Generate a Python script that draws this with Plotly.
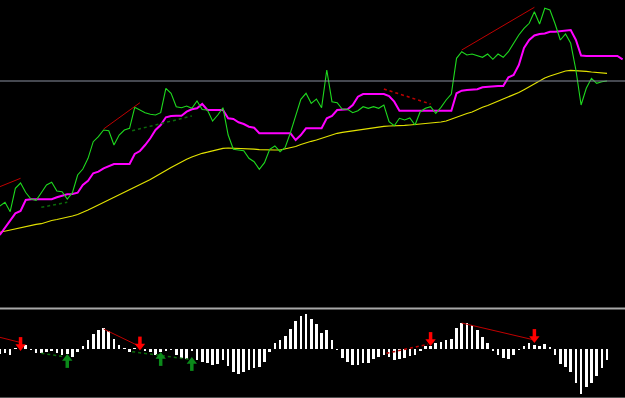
import plotly.graph_objects as go

# ---------------- data ----------------
# main panel: price-like level (arbitrary units, higher = up)
close_line = [94, 97.7, 88.3, 111.7, 117, 107.5, 101, 99.7, 107.3, 115,
              117.7, 109, 108.3, 101, 107.3, 125, 131, 141.7, 158.3, 163.3,
              170, 169.3, 155, 165, 170, 171.7, 192.7, 190, 187.3, 185.7,
              185, 187.3, 211.7, 206.7, 193.3, 192.3, 194, 191.7, 199, 190.5,
              190, 179, 185, 192.3, 165, 150.7, 150, 149.3, 141.7, 138.3,
              130.7, 137.3, 150.7, 154, 148.3, 152.7, 167.3, 185, 200.7, 206.7,
              196.7, 201, 192.3, 230, 198.3, 197.3, 190.7, 190.7, 187.3, 189.3,
              193.3, 191.7, 193.3, 191.7, 195, 178.3, 174.3, 181.7, 180, 182,
              175, 188.3, 191.7, 193.3, 186.7, 192.7, 200, 206, 241.7, 248.3,
              245, 246, 244, 242.7, 246, 240.7, 246, 242.7, 248.3, 257.3,
              265, 271.7, 276.7, 288.3, 276, 291.7, 290, 276, 260, 266,
              256.7, 230, 195, 211.7, 221.7, 216.7, 218.3, 219]

magenta_line = [65, 72.5, 80, 86.7, 89, 100, 100.7, 100.7, 100.7, 100.7,
                100.7, 102.7, 104, 105.7, 106, 107.3, 115, 119.3, 126.7, 128.3,
                131.7, 134, 136, 136, 136, 136, 146, 149, 155, 161.7,
                170, 175, 182.7, 184, 184.2, 184.3, 188.3, 190.7, 191.7, 196,
                190, 190, 190, 190, 181.7, 181, 177.7, 176, 173.3, 172.3,
                166.7, 166.7, 166.7, 166.7, 166.7, 166.7, 166.7, 160, 165, 171.7,
                171.7, 171.7, 171.7, 181.7, 184, 190, 190, 190.7, 195, 203.3,
                206, 206, 206, 206, 206, 204, 198.3, 189.3, 189.3, 189.3,
                189.3, 189.3, 189.3, 189.3, 189.3, 189.3, 189.3, 189.3, 206.7, 209.3,
                210, 210.3, 210.7, 212.7, 213.3, 213.5, 214, 214, 222.7, 225,
                235, 252, 260, 264.5, 266, 266.5, 268.3, 268.3, 269, 269.5,
                270, 260, 244.5, 244, 244, 244, 244, 244, 244, 244,
                240.7]

yellow_line = [67.7, 68.8, 70, 71.2, 72.4, 73.7, 75, 75.6, 76.3, 78,
               79.5, 80.5, 81.5, 82.7, 84, 85.5, 87.5, 90, 92.5, 95,
               97.5, 100.5, 102.5, 105, 107.5, 109.7, 112.5, 115.5, 118, 120.5,
               123.5, 126.2, 129.5, 132.5, 135.5, 138, 140.7, 143, 145, 146.7,
               147.8, 149, 150.5, 151.7, 152, 151.9, 151.8, 151.7, 151.3, 150.8,
               150.3, 150, 150, 150, 150, 151, 152, 153.5, 155.5, 157.3,
               158.7, 160, 161.7, 163.3, 165, 166.7, 167.7, 168.5, 169, 169.7,
               170.5, 171.3, 172.3, 173, 173.7, 174, 174, 174.2, 174.6, 175,
               175.4, 175.8, 176.3, 176.8, 177.2, 178, 179, 181, 183, 184.5,
               186.5, 188, 190.5, 192.7, 194.5, 196.7, 198.7, 200.7, 203, 205,
               207.5, 210.3, 213.2, 216.2, 219.5, 222, 224, 225.7, 227.5, 229,
               229.6, 229.5, 229.1, 228.7, 228, 227.5, 227, 226.7]

level_value = 219

# divergence lines in main panel: (bar_from, bar_to, value_from, value_to)
main_red_solid = [(0, 4, 113.3, 121.7), (20, 27, 171, 197.3), (89, 103, 250, 292.7)]
main_green_dotted = [(8, 13, 92.7, 97.7), (25.5, 37, 169.3, 184)]
main_red_dotted = [(74, 83, 211, 196)]

# oscillator histogram
osc = [-5, -4, -6, 1, 2, 4, -1, -4, -4, -3,
       -2, -4, -6, -5, -8, -3, 3, 9, 15, 19,
       21, 18, 10, 4, 1, -3, 1, 2, -2, -3,
       -6, -3, -2, -1, -6, -9, -10, -2, -11, -13,
       -14, -16, -15, -11, -17, -23, -25, -23, -21, -19,
       -18, -13, -3, 6, 9, 13, 20, 28, 33, 35,
       30, 25, 16, 19, 9, -1, -9, -13, -16, -16,
       -14, -14, -10, -8, -6, -8, -11, -10, -9, -7,
       -6, -2, 3, 3, 6, 7, 9, 10, 21, 26,
       26, 24, 19, 12, 6, -2, -6, -9, -10, -6,
       -1, 3, 6, 4, 3, 5, 2, -6, -15, -18,
       -23, -34, -45, -38, -34, -27, -19, -11]

osc_red_solid = [(0, 4, 11.7, 6.5), (20, 27, 20, 2.5), (89, 103, 26, 9)]
osc_green_dotted = [(8, 12.5, -4.3, -7.7), (25.5, 36.5, -2.7, -10.3)]
osc_red_dotted = [(74.5, 82.5, -4.3, 4.7)]

sell_bars = [4, 27, 83, 103]
sell_tips = [-2, -1.5, 3, 6]
buy_bars = [13, 31, 37]
buy_tips = [-5, -3, -8]

# ---------------- figure ----------------
fig = go.Figure()

def seg_traces(segs, color, dash, xa, ya, width=1):
    for (b0, b1, v0, v1) in segs:
        fig.add_trace(go.Scatter(x=[b0, b1], y=[v0, v1], mode="lines",
                                 line=dict(color=color, width=width, dash=dash),
                                 xaxis=xa, yaxis=ya, hoverinfo="skip"))

bars_main = list(range(len(close_line)))
fig.add_trace(go.Scatter(x=list(range(len(yellow_line))), y=yellow_line, mode="lines",
                         line=dict(color="#e2e200", width=1.2), xaxis="x", yaxis="y"))
fig.add_trace(go.Scatter(x=list(range(len(magenta_line))), y=magenta_line, mode="lines",
                         line=dict(color="#ff00ff", width=2), xaxis="x", yaxis="y"))
fig.add_trace(go.Scatter(x=bars_main, y=close_line, mode="lines",
                         line=dict(color="#1ed81e", width=1.1), xaxis="x", yaxis="y"))

seg_traces(main_red_solid, "#c00000", "solid", "x", "y")
seg_traces(main_green_dotted, "#0a6a0a", "dot", "x", "y", 1.5)
seg_traces(main_red_dotted, "#c00000", "dot", "x", "y", 1.5)

# oscillator
fig.add_trace(go.Bar(x=list(range(len(osc))), y=osc, width=0.5,
                     marker=dict(color="#ffffff", line=dict(width=0)),
                     xaxis="x2", yaxis="y2"))
seg_traces(osc_red_solid, "#c00000", "solid", "x2", "y2")
seg_traces(osc_green_dotted, "#0a6a0a", "dot", "x2", "y2", 1.5)
seg_traces(osc_red_dotted, "#c00000", "dot", "x2", "y2", 1.5)

# arrows
fig.add_trace(go.Scatter(x=sell_bars, y=[t + 9 for t in sell_tips], mode="markers",
                         marker=dict(symbol="line-ns", size=7, line=dict(color="#ff0000", width=3.5)),
                         xaxis="x2", yaxis="y2"))
fig.add_trace(go.Scatter(x=sell_bars, y=[t + 4.5 for t in sell_tips], mode="markers",
                         marker=dict(symbol="triangle-down", size=9, color="#ff0000", line=dict(width=0)),
                         xaxis="x2", yaxis="y2"))
fig.add_trace(go.Scatter(x=buy_bars, y=[t - 9 for t in buy_tips], mode="markers",
                         marker=dict(symbol="line-ns", size=7, line=dict(color="#0b8a1a", width=3.5)),
                         xaxis="x2", yaxis="y2"))
fig.add_trace(go.Scatter(x=buy_bars, y=[t - 4.5 for t in buy_tips], mode="markers",
                         marker=dict(symbol="triangle-up", size=9, color="#0b8a1a", line=dict(width=0)),
                         xaxis="x2", yaxis="y2"))

xr = [0.0385, 120.46]
ax_off = dict(visible=False, showgrid=False, zeroline=False, fixedrange=True)
fig.update_layout(
    width=625, height=398,
    margin=dict(l=0, r=0, t=0, b=0),
    paper_bgcolor="#000000", plot_bgcolor="#000000",
    showlegend=False,
    xaxis=dict(range=xr, domain=[0, 1], anchor="y", **ax_off),
    yaxis=dict(range=[-6, 300], domain=[1 - 306 / 398, 1], anchor="x", **ax_off),
    xaxis2=dict(range=xr, domain=[0, 1], anchor="y2", **ax_off),
    yaxis2=dict(range=[-49, 39], domain=[0, 88 / 398], anchor="x2", **ax_off),
    bargap=0,
    shapes=[
        dict(type="line", xref="paper", x0=0, x1=1, yref="y", y0=level_value, y1=level_value,
             line=dict(color="#8a90a0", width=1)),
        dict(type="line", xref="paper", x0=0, x1=1, yref="paper",
             y0=1 - 308.5 / 398, y1=1 - 308.5 / 398, line=dict(color="#a8a8a8", width=2)),
        dict(type="line", xref="paper", x0=0, x1=1, yref="paper",
             y0=0.5 / 398, y1=0.5 / 398, line=dict(color="#505050", width=1)),
    ],
)

fig.write_html("out.html")
